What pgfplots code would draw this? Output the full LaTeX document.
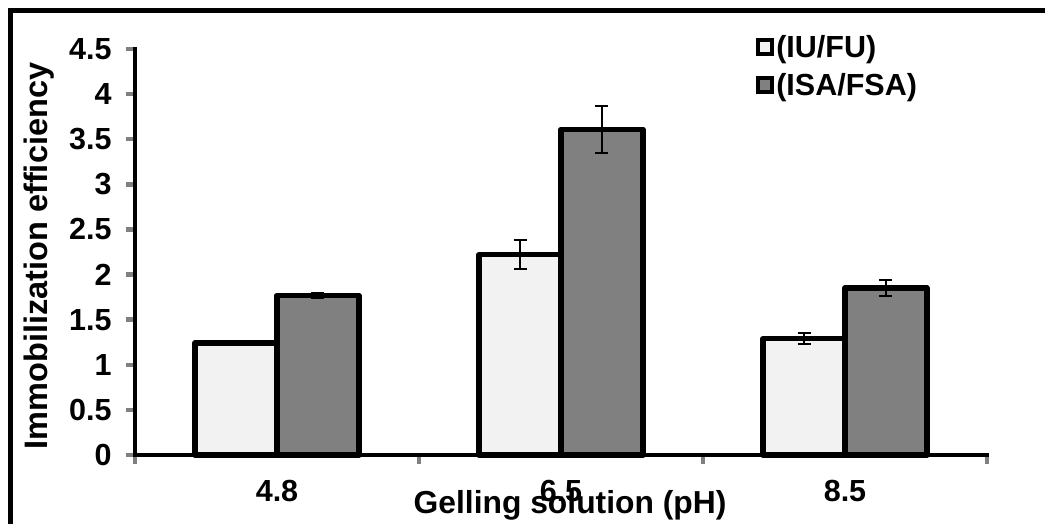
\documentclass[border=0pt]{standalone}
\usepackage{pgfplots}
\pgfplotsset{compat=1.18}
\usepackage{pgfplotstable}
\usepackage{fontspec}
\setmainfont{Liberation Sans}
\definecolor{lightbar}{HTML}{F2F2F2}
\definecolor{darkbar}{HTML}{808080}
\pgfplotstableread{
x a ae b be
0 1.24 0.015 1.77 0.03
1 2.22 0.16 3.61 0.26
2 1.29 0.063 1.85 0.09
}\datatable
\begin{document}
\begin{tikzpicture}[x=1pt,y=1pt]
\useasboundingbox (0,0) rectangle (1045,524);
\draw[line width=5pt] (10,0) -- (10,513.5) -- (1045,513.5);
\begin{axis}[
  at={(135pt,69pt)}, anchor=south west,
  scale only axis, width=852pt, height=406pt,
  xmin=-0.5, xmax=2.5, ymin=0, ymax=4.5,
  axis x line*=bottom, axis y line*=left,
  axis line style={line width=4.5pt, line cap=rect},
  ybar=0pt, bar width=0.288,
  xtick={0,1,2}, xticklabels={4.8,6.5,8.5},
  major x tick style={draw=none},
  minor xtick={-0.5,0.5,1.5,2.5},
  minor tick length=9pt,
  minor x tick style={line width=4.5pt},
  ytick={0,0.5,...,4.5},
  yticklabels={0,0.5,1,1.5,2,2.5,3,3.5,4,4.5},
  major tick length=9pt,
  major y tick style={line width=4.5pt},
  tick align=outside,
  tick pos=left,
  font=\fontsize{30.5}{34}\selectfont\bfseries,
  /pgf/number format/assume math mode=true,
  yticklabel style={xshift=-11pt},
  xticklabel style={yshift=-13pt},
  xlabel={Gelling solution (pH)},
  ylabel={Immobilization efficiency},
  xlabel style={at={(axis description cs:0.5106,-0.143)}, anchor=base, font=\fontsize{31.8}{36}\selectfont\bfseries},
  ylabel style={at={(axis description cs:-0.113,0.49)}, anchor=center, rotate=0, font=\fontsize{32.5}{36}\selectfont\bfseries},
  legend style={draw=none, fill=none, at={(axis description cs:0.729,1.04)}, anchor=north west,
    font=\fontsize{30.5}{34}\selectfont\bfseries, row sep=11pt, inner sep=0pt},
  legend cell align=left,
  legend image code/.code={\draw[#1, line width=4pt, line join=miter] (1pt,-7pt) rectangle (15pt,7pt);},
  clip=false,
]
\addplot[fill=lightbar, draw=black, line width=5.5pt, line join=round,
  error bars/.cd, y dir=both, y explicit,
  error bar style={line width=1.8pt, black},
  error mark options={rotate=90, mark size=6.5pt, line width=1.8pt, black}]
  table[x=x, y=a, y error=ae]{\datatable};
\addplot[fill=darkbar, draw=black, line width=5.5pt, line join=round,
  error bars/.cd, y dir=both, y explicit,
  error bar style={line width=1.8pt, black},
  error mark options={rotate=90, mark size=6.5pt, line width=1.8pt, black}]
  table[x=x, y=b, y error=be]{\datatable};
\legend{(IU/FU),(ISA/FSA)}
\end{axis}
\end{tikzpicture}
\end{document}
